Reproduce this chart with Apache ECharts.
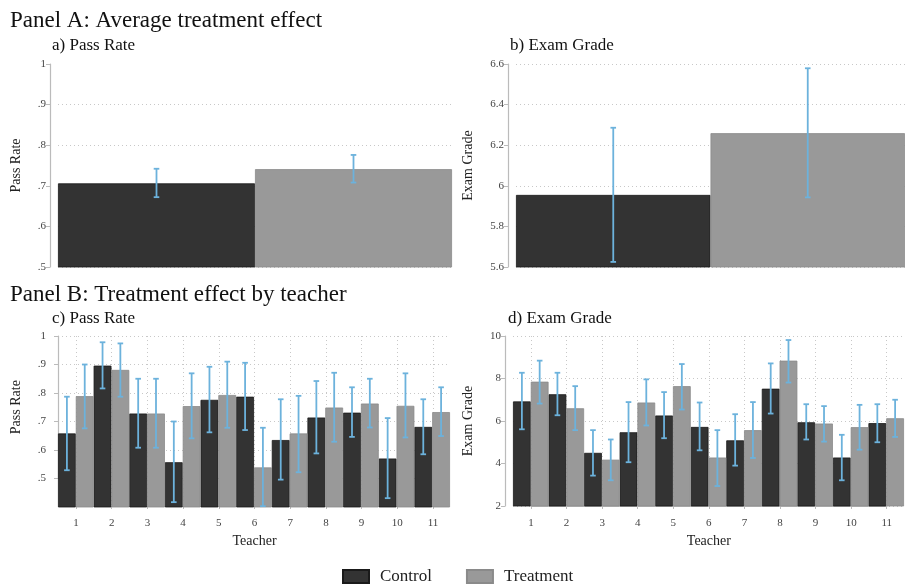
<!DOCTYPE html>
<html><head><meta charset="utf-8">
<script src="https://cdn.jsdelivr.net/npm/echarts@6/dist/echarts.min.js"></script>
<style>html,body{margin:0;padding:0;background:#fff}#c{width:905px;height:584px}</style>
</head><body><div id="c"></div>
<script>
// ---- Data ----
const groups = ['Control', 'Treatment'];
// Panel A: average effect
const passAvg = [0.706, 0.741];
const passAvgLo = [0.672, 0.708];
const passAvgHi = [0.742, 0.776];
const gradeAvg = [5.955, 6.259];
const gradeAvgLo = [5.625, 5.943];
const gradeAvgHi = [6.286, 6.579];
// Panel B: by teacher
const teachers = ['1','2','3','4','5','6','7','8','9','10','11'];
const passCtl   = [0.658,0.896,0.728,0.557,0.776,0.787,0.635,0.714,0.731,0.570,0.681];
const passCtlLo = [0.529,0.816,0.608,0.417,0.662,0.670,0.496,0.588,0.646,0.431,0.585];
const passCtlHi = [0.787,0.978,0.850,0.700,0.892,0.906,0.778,0.842,0.820,0.712,0.778];
const passTrt   = [0.789,0.881,0.728,0.754,0.793,0.539,0.658,0.749,0.763,0.755,0.733];
const passTrtLo = [0.676,0.787,0.608,0.641,0.678,0.403,0.522,0.629,0.679,0.644,0.649];
const passTrtHi = [0.900,0.974,0.850,0.869,0.910,0.678,0.790,0.871,0.850,0.869,0.820];
const gradeCtl   = [6.92,7.26,4.50,5.47,6.26,5.72,5.09,7.52,5.94,4.28,5.90];
const gradeCtlLo = [5.61,6.27,3.43,4.06,5.19,4.62,3.90,6.35,5.13,3.21,5.00];
const gradeCtlHi = [8.27,8.27,5.57,6.89,7.36,6.87,6.32,8.71,6.79,5.35,6.79];
const gradeTrt   = [7.85,6.60,4.18,6.87,7.64,4.28,5.57,8.84,5.88,5.71,6.13];
const gradeTrtLo = [6.82,5.57,3.21,5.79,6.54,2.94,4.26,7.81,5.03,4.65,5.25];
const gradeTrtHi = [8.84,7.64,5.13,7.96,8.68,5.57,6.89,9.81,6.70,6.76,7.00];
const passTicks = ['.5','.6','.7','.8','.9','1'];

// ---- Styles ----
const FONT = 'Liberation Serif';
const C_CTL = '#333333', C_TRT = '#999999', C_ERR = '#6cb2dc';
const gridLineStyle = {color:'#c8c8c8', type:[1,3], width:1};
const tickLabel = {fontFamily:FONT, fontSize:11, color:'#444'};
const axisLineStyle = {lineStyle:{color:'#bbb', width:1.2}};

function errSeries(name, xi, yi, lo, hi, side) {
  return {
    type:'custom', name: name, xAxisIndex:xi, yAxisIndex:yi, z:10, silent:true,
    data: lo.map((l,i)=>[i, l, hi[i]]),
    renderItem: function(params, api){
      const x = api.value(0);
      const p1 = api.coord([x, api.value(1)]);
      const p2 = api.coord([x, api.value(2)]);
      const bw = api.size([1,0])[0];
      const cx = p1[0] + side*bw/4;
      const cap = 2.8;
      const st = {stroke:C_ERR, lineWidth:1.8};
      return {type:'group', children:[
        {type:'line', shape:{x1:cx,y1:p1[1],x2:cx,y2:p2[1]}, style:st},
        {type:'line', shape:{x1:cx-cap,y1:p1[1],x2:cx+cap,y2:p1[1]}, style:st},
        {type:'line', shape:{x1:cx-cap,y1:p2[1],x2:cx+cap,y2:p2[1]}, style:st}
      ]};
    }
  };
}
function barSeries(name, xi, yi, data, color, border) {
  return {type:'bar', name:name, xAxisIndex:xi, yAxisIndex:yi, data:data,
    barGap:'0%', barCategoryGap:'0%', z:2,
    itemStyle:{color:color, borderColor:border, borderWidth:0.8}};
}
function titleAt(text, left, top, size) {
  return {text:text, left:left, top:top, padding:0,
    textStyle:{fontFamily:FONT, fontSize:size, fontWeight:'normal', color:'#111'}};
}
function yName(text, gap) {
  return {name:text, nameLocation:'middle', nameGap:gap, nameRotate:90,
    nameTextStyle:{fontFamily:FONT, fontSize:14, color:'#222'}};
}

const chart = echarts.init(document.getElementById('c'));
const option = {
  animation:false,
  backgroundColor:'#fff',
  title:[
    titleAt('Panel A: Average treatment effect', 10, 9, 23),
    titleAt('a) Pass Rate', 52, 37, 17),
    titleAt('b) Exam Grade', 510, 37, 17),
    titleAt('Panel B: Treatment effect by teacher', 10, 283, 23),
    titleAt('c) Pass Rate', 52, 310, 17),
    titleAt('d) Exam Grade', 508, 310, 17)
  ],
  legend:{
    data:groups, left:342, top:568, padding:0, itemWidth:26, itemHeight:13, itemGap:34,
    icon:'rect', selectedMode:false,
    textStyle:{fontFamily:FONT, fontSize:17, color:'#222', padding:[0,0,0,6]}
  },
  grid:[
    {left:58, top:64, width:394, height:203},          // 0 a
    {left:516, top:64, width:389, height:203},         // 1 b
    {left:58, top:336, width:392, height:171},         // 2 c bars
    {left:513, top:336, width:391, height:170},        // 3 d bars
    {left:58, top:336, width:392, height:142.3},       // 4 c y-axis (.5 to 1)
    {left:76, top:336, width:357, height:170},         // 5 c x-axis
    {left:531, top:336, width:355.7, height:170}       // 6 d x-axis
  ],
  xAxis:[
    {gridIndex:0, type:'category', data:['all'], show:false},
    {gridIndex:1, type:'category', data:['all'], show:false},
    {gridIndex:2, type:'category', data:teachers, show:false},
    {gridIndex:3, type:'category', data:teachers, show:false},
    {gridIndex:4, type:'value', show:false, min:0, max:1},
    {gridIndex:5, type:'value', min:1, max:11, interval:1, offset:7,
      axisLine:axisLineStyle, axisTick:{show:true, length:3, lineStyle:{color:'#bbb'}},
      axisLabel:Object.assign({}, tickLabel, {margin:5}),
      splitLine:{show:true, lineStyle:gridLineStyle},
      name:'Teacher', nameLocation:'middle', nameGap:21,
      nameTextStyle:{fontFamily:FONT, fontSize:14, color:'#222'}},
    {gridIndex:6, type:'value', min:1, max:11, interval:1, offset:7,
      axisLine:axisLineStyle, axisTick:{show:true, length:3, lineStyle:{color:'#bbb'}},
      axisLabel:Object.assign({}, tickLabel, {margin:5}),
      splitLine:{show:true, lineStyle:gridLineStyle},
      name:'Teacher', nameLocation:'middle', nameGap:21,
      nameTextStyle:{fontFamily:FONT, fontSize:14, color:'#222'}}
  ],
  yAxis:[
    Object.assign({gridIndex:0, type:'value', min:0.5, max:1, interval:0.1, offset:8,
      axisLine:Object.assign({show:true}, axisLineStyle), axisTick:{show:true, length:4, lineStyle:{color:'#bbb'}},
      axisLabel:Object.assign({}, tickLabel, {margin:4, formatter:v=>passTicks[Math.round((v-0.5)*10)]}),
      splitLine:{show:true, showMaxLine:false, lineStyle:gridLineStyle}}, yName('Pass Rate', 27)),
    Object.assign({gridIndex:1, type:'value', min:5.6, max:6.6, interval:0.2, offset:8,
      axisLine:Object.assign({show:true}, axisLineStyle), axisTick:{show:true, length:4, lineStyle:{color:'#bbb'}},
      axisLabel:Object.assign({}, tickLabel, {margin:4, formatter:v=>(+v.toFixed(1)).toString()}),
      splitLine:{show:true, lineStyle:gridLineStyle}}, yName('Exam Grade', 33)),
    {gridIndex:2, type:'value', min:0.4, max:1, show:false, splitLine:{show:false}},
    Object.assign({gridIndex:3, type:'value', min:2, max:10, interval:2, offset:8,
      axisLine:Object.assign({show:true}, axisLineStyle), axisTick:{show:true, length:4, lineStyle:{color:'#bbb'}},
      axisLabel:Object.assign({}, tickLabel, {margin:4}),
      splitLine:{show:true, lineStyle:gridLineStyle}}, yName('Exam Grade', 30)),
    Object.assign({gridIndex:4, type:'value', min:0.5, max:1, interval:0.1, offset:8,
      axisLine:Object.assign({show:true}, axisLineStyle), axisTick:{show:true, length:4, lineStyle:{color:'#bbb'}},
      axisLabel:Object.assign({}, tickLabel, {margin:4, formatter:v=>passTicks[Math.round((v-0.5)*10)]}),
      splitLine:{show:true, lineStyle:gridLineStyle}}, yName('Pass Rate', 27)),
    {gridIndex:5, type:'value', show:false, splitLine:{show:false}},
    {gridIndex:6, type:'value', show:false, splitLine:{show:false}}
  ],
  series:[
    barSeries('Control', 0, 0, [passAvg[0]], C_CTL, '#1a1a1a'),
    barSeries('Treatment', 0, 0, [passAvg[1]], C_TRT, '#8a8a8a'),
    errSeries('Control', 0, 0, [passAvgLo[0]], [passAvgHi[0]], -1),
    errSeries('Treatment', 0, 0, [passAvgLo[1]], [passAvgHi[1]], 1),
    barSeries('Control', 1, 1, [gradeAvg[0]], C_CTL, '#1a1a1a'),
    barSeries('Treatment', 1, 1, [gradeAvg[1]], C_TRT, '#8a8a8a'),
    errSeries('Control', 1, 1, [gradeAvgLo[0]], [gradeAvgHi[0]], -1),
    errSeries('Treatment', 1, 1, [gradeAvgLo[1]], [gradeAvgHi[1]], 1),
    barSeries('Control', 2, 2, passCtl, C_CTL, '#1a1a1a'),
    barSeries('Treatment', 2, 2, passTrt, C_TRT, '#8a8a8a'),
    errSeries('Control', 2, 2, passCtlLo, passCtlHi, -1),
    errSeries('Treatment', 2, 2, passTrtLo, passTrtHi, 1),
    barSeries('Control', 3, 3, gradeCtl, C_CTL, '#1a1a1a'),
    barSeries('Treatment', 3, 3, gradeTrt, C_TRT, '#8a8a8a'),
    errSeries('Control', 3, 3, gradeCtlLo, gradeCtlHi, -1),
    errSeries('Treatment', 3, 3, gradeTrtLo, gradeTrtHi, 1)
  ]
};
chart.setOption(option);
</script></body></html>
